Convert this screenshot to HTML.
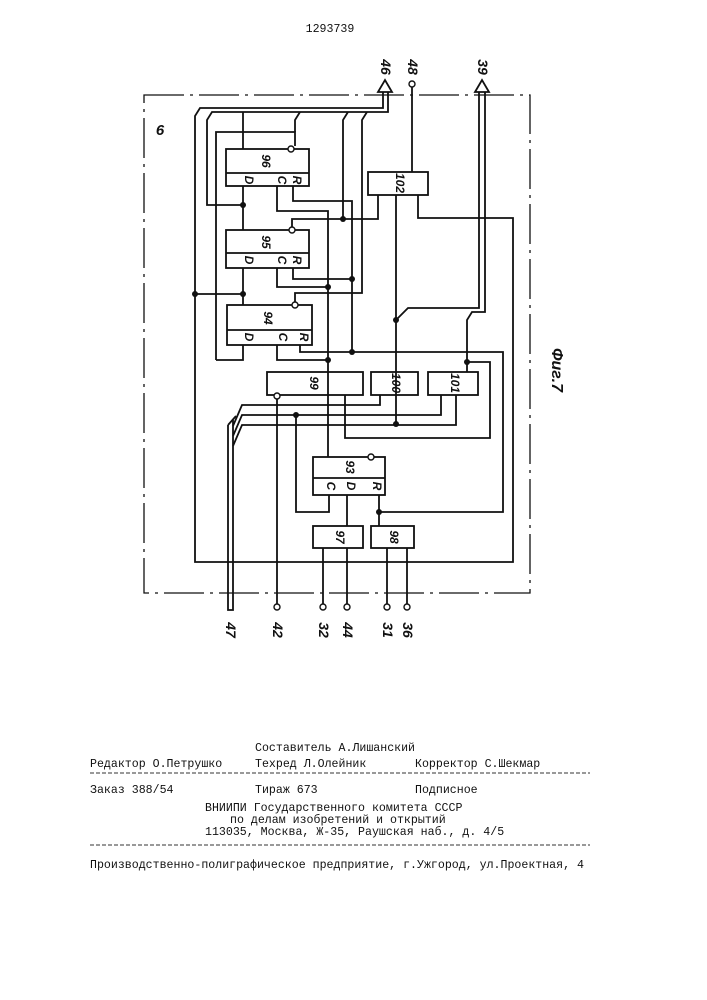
<!DOCTYPE html>
<html><head><meta charset="utf-8"><style>
html,body{margin:0;padding:0;background:#fff;}
svg{display:block;}
.t{font-family:"Liberation Mono","DejaVu Sans Mono",monospace;font-size:11.6px;fill:#111;}
.n{font-family:"Liberation Sans",sans-serif;font-size:12px;font-weight:bold;font-style:italic;fill:#111;}
</style></head><body>
<svg width="707" height="1000" viewBox="0 0 707 1000" xmlns="http://www.w3.org/2000/svg">
<text x="330" y="32" class="t" text-anchor="middle" font-size="12">1293739</text>
<g fill="none" stroke="#111" stroke-width="1.8">
<!-- frame dash-dot -->
<path d="M144 95 H530 V593 H144 Z" stroke-width="1.3" stroke-dasharray="40,6,3,6"/>
<!-- blocks -->
<rect x="226" y="149" width="83" height="37"/><line x1="226" y1="173" x2="309" y2="173"/>
<rect x="226" y="230" width="83" height="38"/><line x1="226" y1="253" x2="309" y2="253"/>
<rect x="227" y="305" width="85" height="40"/><line x1="227" y1="330" x2="312" y2="330"/>
<rect x="368" y="172" width="60" height="23"/>
<rect x="267" y="372" width="96" height="23"/>
<rect x="371" y="372" width="47" height="23"/>
<rect x="428" y="372" width="50" height="23"/>
<rect x="313" y="457" width="72" height="38"/><line x1="313" y1="478" x2="385" y2="478"/>
<rect x="313" y="526" width="50" height="22"/>
<rect x="371" y="526" width="43" height="22"/>
<!-- bus 46 -->
<path d="M383 88 V108 H200 L195 116 V562 H513 V218 H418 V195"/>
<path d="M388 88 V112 H212 L207 120 V205 H243"/>
<path d="M243 112 L243 118 V149"/>
<path d="M216 360 V132 H295 L295 146"/>
<path d="M300 112 L295 120 V132"/>
<path d="M348 112 L343 120 V219"/>
<path d="M367 112 L362 120 V293 H295 V303"/>
<path d="M378 92 L385 80 L392 92 Z" fill="#fff"/>
<!-- 48 -->
<path d="M412 86 V172"/>
<!-- 39 -->
<path d="M479 92 V308 H408 L396 320"/>
<path d="M485 92 V312 H472 L467 320 V372"/>
<path d="M475 92 L482 80 L489 92 Z" fill="#fff"/>
<!-- D chain -->
<path d="M243 186 V230"/><path d="M243 268 V305"/><path d="M195 294 H243"/>
<path d="M216 360 H243 V345"/>
<!-- C -->
<path d="M277 186 V211 H328 V457"/><path d="M277 268 V287 H328"/><path d="M277 345 V360 H328"/>
<!-- R -->
<path d="M293 186 V201 H352 V352"/><path d="M293 268 V279 H352"/>
<path d="M300 345 V352 H503 V512 H379"/>
<path d="M379 495 V526"/>
<path d="M292 230 V219 H378 V195"/>
<path d="M396 195 V424"/>
<path d="M467 362 H490 V438 H345 V395"/>
<!-- 99 out -->
<path d="M277 398 V604"/>
<!-- bus 47 -->
<path d="M228 425 V610 H233 V420"/>
<path d="M228 425 L236 416"/>
<path d="M233 426 L242 405 H380 V395"/>
<path d="M233 436 L242 415 H441 V395"/>
<path d="M233 446 L242 425 H456 V395"/>
<path d="M296 415 V512 H329 V495"/>
<path d="M347 495 V526"/>
<path d="M323 548 V604"/><path d="M347 548 V604"/><path d="M387 548 V604"/><path d="M407 548 V604"/>
<!-- circles -->
<g stroke-width="1.4" fill="#fff">
<circle cx="291" cy="149" r="3"/><circle cx="292" cy="230" r="3"/><circle cx="295" cy="305" r="3"/>
<circle cx="277" cy="396" r="3"/><circle cx="371" cy="457" r="3"/><circle cx="412" cy="84" r="3"/>
<circle cx="277" cy="607" r="3"/><circle cx="323" cy="607" r="3"/><circle cx="347" cy="607" r="3"/>
<circle cx="387" cy="607" r="3"/><circle cx="407" cy="607" r="3"/>
</g>
</g>
<g fill="#111">
<circle cx="243" cy="205" r="3"/><circle cx="343" cy="219" r="3"/><circle cx="195" cy="294" r="3"/>
<circle cx="243" cy="294" r="3"/><circle cx="328" cy="287" r="3"/><circle cx="352" cy="279" r="3"/>
<circle cx="328" cy="360" r="3"/><circle cx="352" cy="352" r="3"/><circle cx="396" cy="320" r="3"/>
<circle cx="467" cy="362" r="3"/><circle cx="296" cy="415" r="3"/><circle cx="396" cy="424" r="3"/>
<circle cx="379" cy="512" r="3"/>
</g>
<!-- block labels -->
<g class="n">
<text transform="translate(262,161) rotate(90)" text-anchor="middle">96</text>
<text transform="translate(262,242) rotate(90)" text-anchor="middle">95</text>
<text transform="translate(264,318) rotate(90)" text-anchor="middle">94</text>
<text transform="translate(396,183) rotate(90)" text-anchor="middle">102</text>
<text transform="translate(310,383) rotate(90)" text-anchor="middle">99</text>
<text transform="translate(392,383) rotate(90)" text-anchor="middle">100</text>
<text transform="translate(451,383) rotate(90)" text-anchor="middle">101</text>
<text transform="translate(346,467) rotate(90)" text-anchor="middle">93</text>
<text transform="translate(336,537) rotate(90)" text-anchor="middle">97</text>
<text transform="translate(390,537) rotate(90)" text-anchor="middle">98</text>
<text transform="translate(245,180) rotate(90)" text-anchor="middle">D</text>
<text transform="translate(278,180) rotate(90)" text-anchor="middle">C</text>
<text transform="translate(293,180) rotate(90)" text-anchor="middle">R</text>
<text transform="translate(245,260) rotate(90)" text-anchor="middle">D</text>
<text transform="translate(278,260) rotate(90)" text-anchor="middle">C</text>
<text transform="translate(293,260) rotate(90)" text-anchor="middle">R</text>
<text transform="translate(245,337) rotate(90)" text-anchor="middle">D</text>
<text transform="translate(279,337) rotate(90)" text-anchor="middle">C</text>
<text transform="translate(300,337) rotate(90)" text-anchor="middle">R</text>
<text transform="translate(327,486) rotate(90)" text-anchor="middle">C</text>
<text transform="translate(347,486) rotate(90)" text-anchor="middle">D</text>
<text transform="translate(373,486) rotate(90)" text-anchor="middle">R</text>
<text transform="translate(381,67) rotate(90)" text-anchor="middle" font-size="14">46</text>
<text transform="translate(408,67) rotate(90)" text-anchor="middle" font-size="14">48</text>
<text transform="translate(478,67) rotate(90)" text-anchor="middle" font-size="14">39</text>
<text transform="translate(226,630) rotate(90)" text-anchor="middle" font-size="14">47</text>
<text transform="translate(273,630) rotate(90)" text-anchor="middle" font-size="14">42</text>
<text transform="translate(319,630) rotate(90)" text-anchor="middle" font-size="14">32</text>
<text transform="translate(343,630) rotate(90)" text-anchor="middle" font-size="14">44</text>
<text transform="translate(383,630) rotate(90)" text-anchor="middle" font-size="14">31</text>
<text transform="translate(403,630) rotate(90)" text-anchor="middle" font-size="14">36</text>
<text x="160" y="135" font-size="15" text-anchor="middle">6</text>
<text transform="translate(552,370) rotate(90)" text-anchor="middle" font-size="16">Фиг.7</text>
</g>
<!-- footer -->
<g class="t">
<text x="255" y="751">Составитель А.Лишанский</text>
<text x="90" y="767">Редактор О.Петрушко</text>
<text x="255" y="767">Техред Л.Олейник</text>
<text x="415" y="767">Корректор С.Шекмар</text>
<text x="90" y="793">Заказ 388/54</text>
<text x="255" y="793">Тираж 673</text>
<text x="415" y="793">Подписное</text>
<text x="205" y="811">ВНИИПИ Государственного комитета СССР</text>
<text x="230" y="823">по делам изобретений и открытий</text>
<text x="205" y="835">113035, Москва, Ж-35, Раушская наб., д. 4/5</text>
<text x="90" y="868">Производственно-полиграфическое предприятие, г.Ужгород, ул.Проектная, 4</text>
</g>
<g stroke="#333" stroke-width="1" stroke-dasharray="4,2">
<line x1="90" y1="773" x2="590" y2="773"/>
<line x1="90" y1="845" x2="590" y2="845"/>
</g>
</svg>
</body></html>
